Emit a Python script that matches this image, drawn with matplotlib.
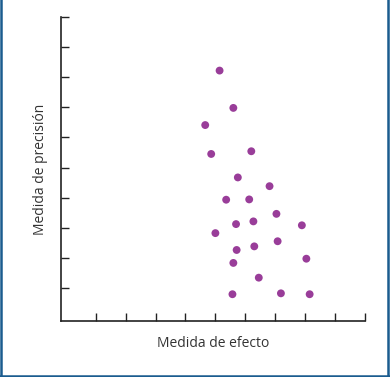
import matplotlib
matplotlib.use('Agg')
import matplotlib.pyplot as plt
from matplotlib.lines import Line2D

# Effect size (x) vs precision (y)
effect = [5.14, 5.60, 4.66, 4.86, 6.20, 5.75, 6.81, 5.36, 6.13, 7.04, 5.69, 6.27,
          7.89, 5.00, 7.08, 6.30, 5.71, 8.04, 5.60, 6.45, 5.57, 7.19, 8.15]
precision = [8.22, 6.98, 6.41, 5.45, 5.54, 4.67, 4.38, 3.93, 3.94, 3.46, 3.12, 3.21,
             3.08, 2.82, 2.55, 2.38, 2.26, 1.97, 1.83, 1.34, 0.79, 0.82, 0.79]
ticks = list(range(1, 11))

dot_color = '#993d99'
frame_color = '#1a5c8f'

plt.rcParams['font.family'] = ['Open Sans', 'DejaVu Sans']

fig = plt.figure(figsize=(3.9, 3.77), dpi=100)
ax = fig.add_axes([0.1564, 0.1485, 0.7795, 0.8064])

ax.scatter(effect, precision, s=32, color=dot_color, edgecolors='none', zorder=3)

ax.set_xlim(-0.16, 10)
ax.set_ylim(-0.1, 10)
ax.set_xticks(ticks)
ax.set_yticks(ticks)
ax.set_xticklabels([])
ax.set_yticklabels([])
ax.tick_params(direction='in', length=6, width=1, color='#222222')
for side in ['top', 'right']:
    ax.spines[side].set_visible(False)
for side in ['left', 'bottom']:
    ax.spines[side].set_linewidth(1.2)
    ax.spines[side].set_color('#222222')

ax.set_xlabel('Medida de efecto', fontsize=10, color='#333333', labelpad=7)
ax.set_ylabel('Medida de precisión', fontsize=10, color='#333333', labelpad=6)

# blue frame around the figure (left, right, bottom)
fig.add_artist(Line2D([0.002, 0.002], [0, 1], transform=fig.transFigure, color=frame_color, lw=1.8))
fig.add_artist(Line2D([0.9955, 0.9955], [0, 1], transform=fig.transFigure, color=frame_color, lw=1.8))
fig.add_artist(Line2D([0, 1], [0.003, 0.003], transform=fig.transFigure, color=frame_color, lw=1.8))

fig.savefig('out.png', dpi=100)
